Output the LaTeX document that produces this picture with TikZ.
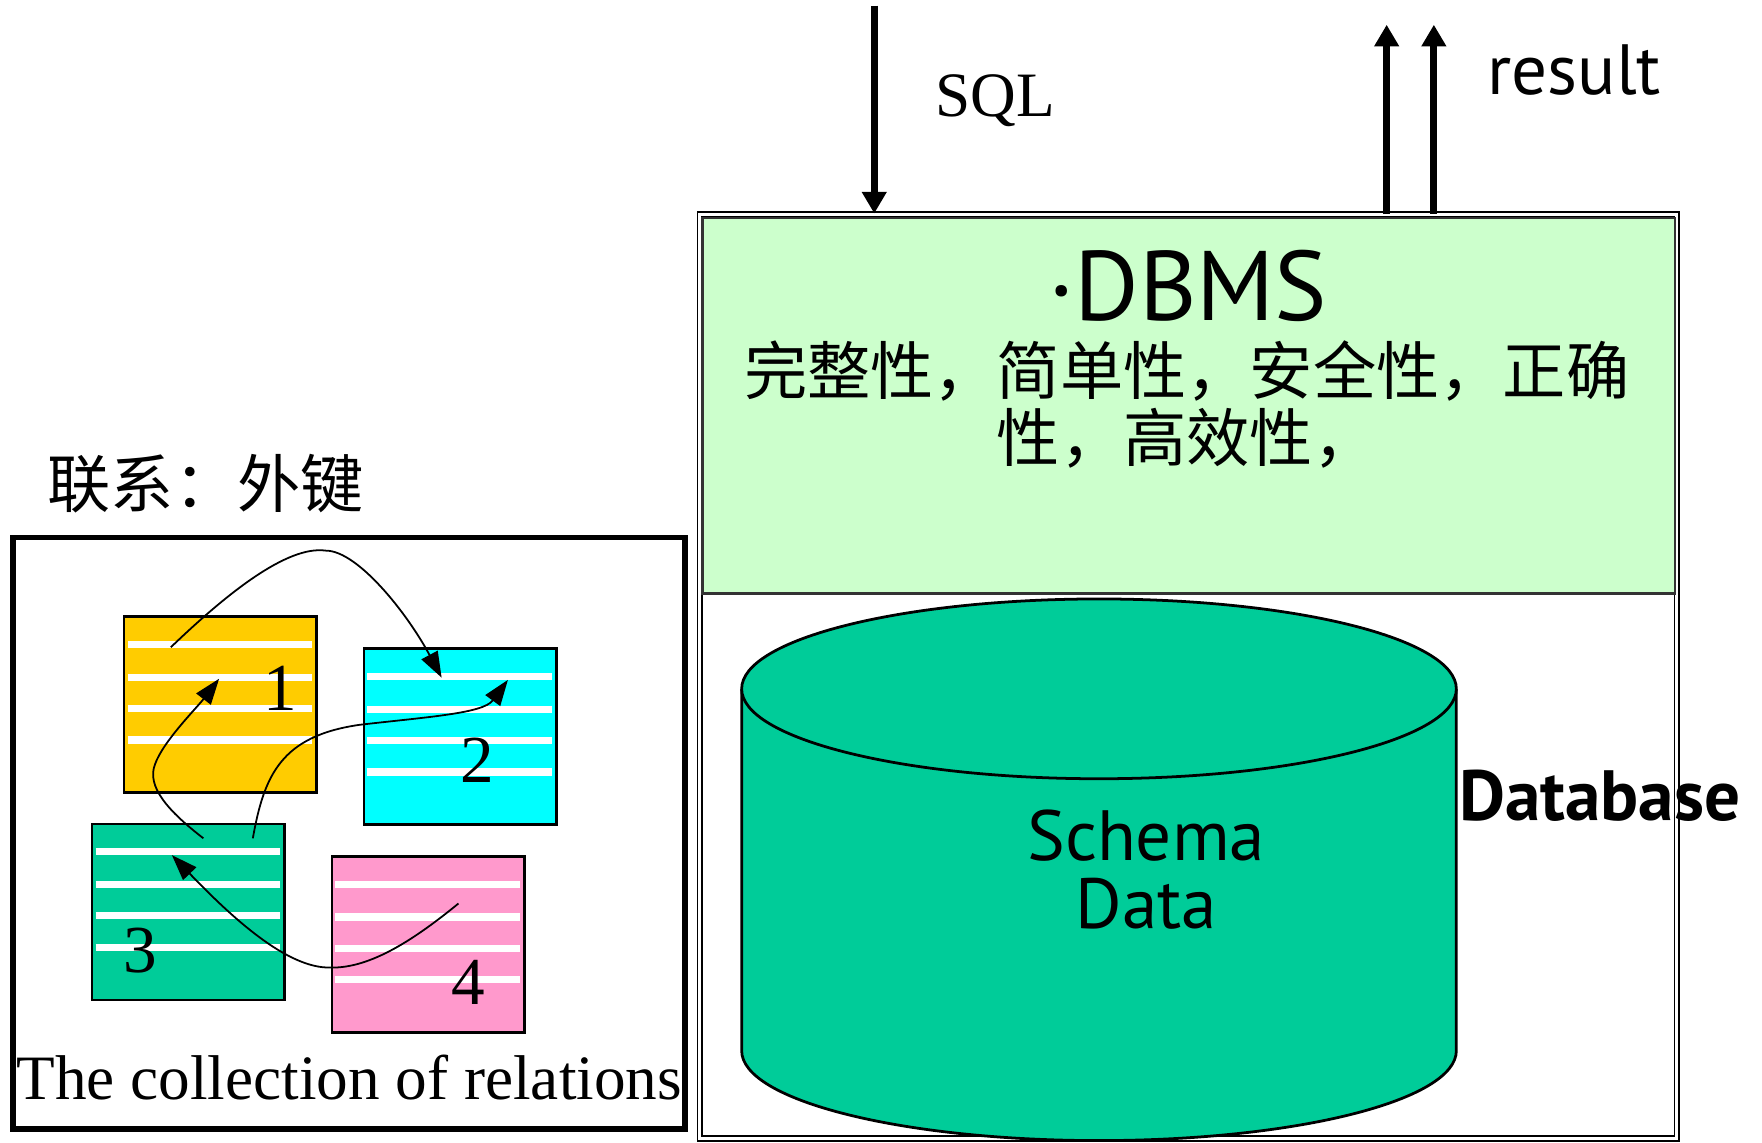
\documentclass[tikz,border=0pt]{standalone}
\usepackage{fontspec}
\setmainfont{Liberation Serif}
\newfontfamily\cjk{Noto Sans CJK SC}
\newfontfamily\comic{PT Sans}
\usetikzlibrary{arrows.meta}

\definecolor{relyellow}{HTML}{FFCC00}
\definecolor{relcyan}{HTML}{00FFFF}
\definecolor{relgreen}{HTML}{00CC99}
\definecolor{relpink}{HTML}{FF99CC}
\definecolor{dbmsfill}{HTML}{CCFFCC}

\begin{document}
\begin{tikzpicture}[x=0.01cm, y=-0.01cm,
every node/.style={inner sep=0pt},
relbox/.style={draw, line width=0.6pt, anchor=north west,
    minimum width=1.71cm, minimum height=1.565cm},
stripe/.style={white, line width=1.8pt},
fk/.style={-{Triangle[length=6.5pt,width=4.6pt]}, line width=0.45pt},
io/.style={-{Triangle[length=5.5pt,width=6pt]}, line width=1.8pt},
digit/.style={anchor=base, font=\fontsize{17}{20}\selectfont},
comictext/.style={font=\comic\fontsize{18}{22}\selectfont}
]
\useasboundingbox (0,0) rectangle (1568,1017);

% relations with foreign keys
\node[font=\cjk\fontsize{16}{18}\selectfont] (fkey) at (183,430) {联系：外键};
\node[draw, line width=1.4pt, anchor=north west, minimum width=5.98cm, minimum height=5.26cm] (rels) at (9,476) {};

\node[relbox, fill=relyellow] (r1) at (109.5,547.5) {};
\node[relbox, fill=relcyan]   (r2) at (323,576) {};
\node[relbox, fill=relgreen]  (r3) at (81,732) {};
\node[relbox, fill=relpink]   (r4) at (294.5,761) {};

\foreach \b in {r1,r2,r3,r4}
  \foreach \d in {26,55,83,111}
    \draw[stripe] ([shift={(4,\d)}]\b.north west) -- ([shift={(-5,\d)}]\b.north east);

\node[digit] (n1) at (249,632) {1};
\node[digit] (n2) at (425,696) {2};
\node[digit] (n3) at (125,865) {3};
\node[digit] (n4) at (417,894) {4};

\coordinate (k1) at (152,576);  \coordinate (t2a) at (393,603);
\coordinate (k3a) at (181,746); \coordinate (t1) at (195,604);
\coordinate (k3b) at (225,746); \coordinate (t2b) at (452,605);
\coordinate (k4) at (408,804);  \coordinate (t3) at (153,761);

\draw[fk] (k1) .. controls (200,530) and (255,485) .. (290,490)
               .. controls (318,490) and (362,545) .. (t2a);
\draw[fk] (k3a) .. controls (150,722) and (130,700) .. (138,680)
                .. controls (145,660) and (175,630) .. (t1);
\draw[fk] (k3b) .. controls (235,690) and (250,655) .. (320,645)
                .. controls (380,638) and (430,635) .. (t2b);
\draw[fk] (k4) .. controls (370,835) and (330,862) .. (294,861)
               .. controls (255,862) and (205,815) .. (t3);

\node[anchor=base west, font=\fontsize{16}{19}\selectfont] (coll) at (14,978) {The collection of relations};

% DBMS and the database
\node[draw, line width=0.4pt, double=white, double distance=0.75pt, anchor=north west,
    minimum width=8.69cm, minimum height=8.22cm] (frame) at (622,190) {};
\node[draw=black!80, line width=0.6pt, fill=dbmsfill, anchor=north west,
    minimum width=8.65cm, minimum height=3.34cm] (dbms) at (624,193) {};

\node[anchor=base, font=\comic\fontsize{25}{30}\selectfont] (dbmsname) at (1057,285) {·DBMS};
\node[align=center, font=\cjk\fontsize{16}{17}\selectfont] (props) at (1056,360)
    {完整性，简单性，安全性，正确\\性，高效性，};

\fill[relgreen] (978,935) ellipse [x radius=318, y radius=80];
\fill[relgreen] (660,613) rectangle (1296,935);
\draw[line width=0.7pt] (660,613) -- (660,935) arc [start angle=180, end angle=0, x radius=318, y radius=80] -- (1296,613);
\draw[line width=0.7pt, fill=relgreen] (978,613) ellipse [x radius=318, y radius=80];

\node[comictext, anchor=base] (schema) at (1020,766) {Schema};
\node[comictext, anchor=base] (data) at (1020,826) {Data};
\node[anchor=base west, font=\comic\bfseries\fontsize{18}{21}\selectfont] (dbase) at (1298,730) {Database};

% query in, result out
\coordinate (sql) at (778,5);
\coordinate (res1) at (1234,22);
\coordinate (res2) at (1276,22);
\draw[io] (sql) -- (sql |- frame.north);
\foreach \r in {res1,res2}
  \draw[io] (\r |- frame.north) -- (\r);

\node[anchor=base west, font=\fontsize{16}{19}\selectfont] (sqllabel) at (832,104) {SQL};
\node[comictext, anchor=base west] (reslabel) at (1323,84) {result};
\end{tikzpicture}
\end{document}
